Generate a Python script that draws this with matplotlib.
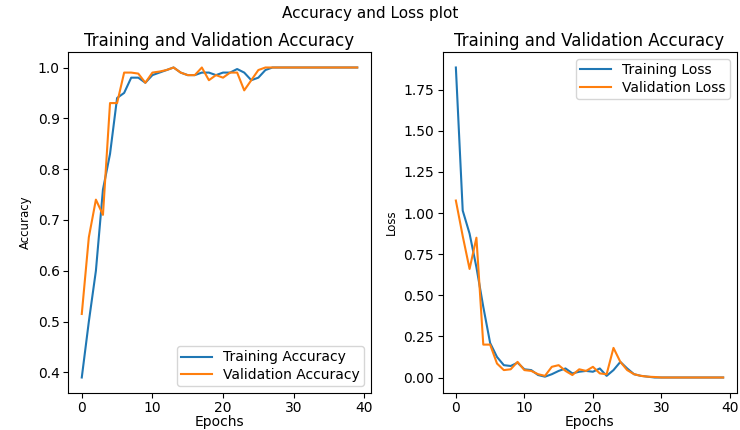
import matplotlib
matplotlib.use("Agg")
import matplotlib.pyplot as plt

epochs = list(range(40))

train_acc = [0.39, 0.50, 0.60, 0.76, 0.83, 0.94, 0.95, 0.98, 0.98, 0.97,
             0.985, 0.99, 0.995, 1.0, 0.99, 0.985, 0.985, 0.99, 0.99, 0.985,
             0.99, 0.99, 0.997, 0.99, 0.975, 0.98, 0.995, 1.0, 1.0, 1.0,
             1.0, 1.0, 1.0, 1.0, 1.0, 1.0, 1.0, 1.0, 1.0, 1.0]
val_acc = [0.515, 0.666, 0.74, 0.71, 0.93, 0.93, 0.99, 0.99, 0.988, 0.97,
           0.99, 0.992, 0.995, 1.0, 0.99, 0.985, 0.985, 1.0, 0.975, 0.985,
           0.98, 0.99, 0.99, 0.955, 0.975, 0.995, 1.0, 1.0, 1.0, 1.0,
           1.0, 1.0, 1.0, 1.0, 1.0, 1.0, 1.0, 1.0, 1.0, 1.0]

train_loss = [1.885, 1.015, 0.875, 0.67, 0.43, 0.21, 0.125, 0.075, 0.07, 0.09,
              0.05, 0.045, 0.015, 0.005, 0.02, 0.04, 0.055, 0.025, 0.035, 0.04,
              0.035, 0.055, 0.01, 0.045, 0.095, 0.055, 0.02, 0.01, 0.005, 0.0,
              0.0, 0.0, 0.0, 0.0, 0.0, 0.0, 0.0, 0.0, 0.0, 0.0]
val_loss = [1.076, 0.86, 0.66, 0.85, 0.2, 0.2, 0.085, 0.045, 0.05, 0.095,
            0.045, 0.04, 0.02, 0.01, 0.065, 0.075, 0.04, 0.015, 0.05, 0.04,
            0.065, 0.025, 0.02, 0.18, 0.095, 0.045, 0.02, 0.01, 0.005, 0.003,
            0.0, 0.0, 0.0, 0.0, 0.0, 0.0, 0.0, 0.0, 0.0, 0.0]

fig = plt.figure(figsize=(7.4, 4.3), dpi=100)
W, H = 740, 430
# axes placed in pixel terms of the 740x430 canvas
ax1 = fig.add_axes([68 / W, 1 - 393 / H, 303 / W, 341 / H])
ax2 = fig.add_axes([442.5 / W, 1 - 393 / H, 294 / W, 341 / H])

leg_kw = dict(fontsize=10, labelspacing=0.25, borderpad=0.3, handlelength=2.2)

ax1.plot(epochs, train_acc, label="Training Accuracy")
ax1.plot(epochs, val_acc, label="Validation Accuracy")
ax1.legend(loc="lower right", **leg_kw)
ax1.set_title("Training and Validation Accuracy", fontsize=12, pad=4)
ax1.set_xlabel("Epochs", fontsize=10, labelpad=0)
ax1.set_ylabel("Accuracy", fontsize=8.5)

ax2.plot(epochs, train_loss, label="Training Loss")
ax2.plot(epochs, val_loss, label="Validation Loss")
ax2.legend(loc="upper right", **leg_kw)
ax2.set_title("Training and Validation Accuracy", fontsize=12, pad=4)
ax2.set_xlabel("Epochs", fontsize=10, labelpad=0)
ax2.set_ylabel("Loss", fontsize=8.5)

for ax in (ax1, ax2):
    ax.tick_params(labelsize=10, pad=2.5)

fig.suptitle("Accuracy and Loss plot", fontsize=11, y=0.985)
fig.savefig("out.png", dpi=100)
